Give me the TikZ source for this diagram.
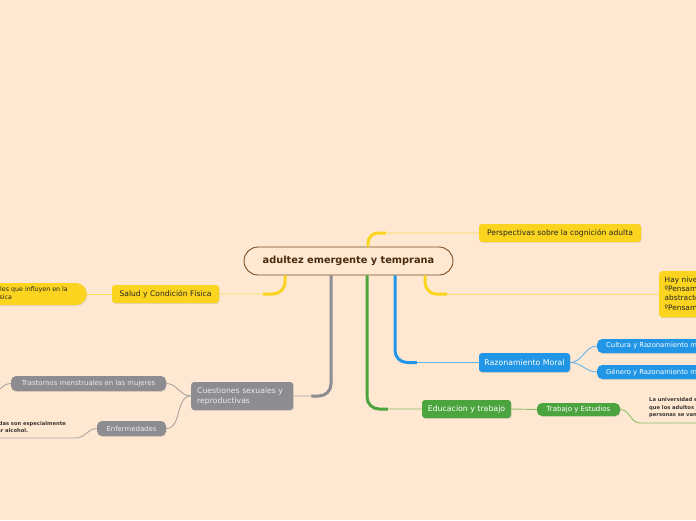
\documentclass[tikz,border=0pt]{standalone}
\usepackage{fontspec}
\setmainfont{DejaVu Sans}
\usetikzlibrary{shadows}
\definecolor{fondo}{HTML}{FEE8D2}
\definecolor{amarillo}{HTML}{FAD41E}
\definecolor{lamarillo}{HTML}{F8DE50}
\definecolor{gris}{HTML}{8C8C91}
\definecolor{lgris}{HTML}{ABA6A2}
\definecolor{azul}{HTML}{2196E6}
\definecolor{lazul}{HTML}{63B4EC}
\definecolor{verde}{HTML}{4CA43E}
\definecolor{lverde}{HTML}{8CC06A}
\definecolor{marron}{HTML}{7A4A1E}
\definecolor{tmarron}{HTML}{4A2A0C}
\definecolor{tnota}{HTML}{3C3530}
\tikzset{
  caja/.style={rounded corners=3pt, inner sep=0pt,
    drop shadow={opacity=0.22, shadow xshift=0.6pt, shadow yshift=-0.9pt}},
  central/.style={draw=marron, line width=0.9pt, fill=fondo, rounded corners=14pt,
    text=tmarron, font=\fontsize{9.8}{11}\selectfont\bfseries},
  yellownode/.style={caja, fill=amarillo, text=black!85, font=\fontsize{7.6}{9.3}\selectfont},
  graynode/.style={caja, fill=gris, text=white!93!black, font=\fontsize{7.7}{9.8}\selectfont},
  graysmall/.style={caja, fill=gris, text=white!93!black, rounded corners=5pt, font=\fontsize{6.9}{8}\selectfont},
  bluenode/.style={caja, fill=azul, text=white, font=\fontsize{7.8}{9}\selectfont},
  bluesmall/.style={caja, fill=azul, text=white, rounded corners=5pt, font=\fontsize{6.8}{8}\selectfont},
  greennode/.style={caja, fill=verde, text=white, font=\fontsize{7.8}{9}\selectfont},
  greensmall/.style={caja, fill=verde, text=white, rounded corners=5pt, font=\fontsize{7}{8}\selectfont},
  nota/.style={inner sep=0pt, text=tnota, font=\fontsize{5.2}{7.6}\selectfont\bfseries},
  yline/.style={draw=lamarillo, line width=0.9pt},
  ytrunk/.style={draw=amarillo, line width=3pt},
  gline/.style={draw=lgris, line width=0.9pt},
  gtrunk/.style={draw=gris, line width=3pt},
  bline/.style={draw=lazul, line width=0.9pt},
  btrunk/.style={draw=azul, line width=3pt},
  vline/.style={draw=lverde, line width=0.9pt},
  vtrunk/.style={draw=verde, line width=3pt}
}
\begin{document}
\begin{tikzpicture}[x=1pt, y=-1pt]
\path[use as bounding box, fill=fondo] (0,0) rectangle (696,520);

% centro
\node[central, minimum width=209pt, minimum height=28pt] (central) at (348.5,261) {adultez emergente y temprana};

% rama amarilla
\node[yellownode, minimum width=162pt, minimum height=18pt] (persp) at (560,233) {Perspectivas sobre la cognición adulta};
\node[yellownode, anchor=north west, inner sep=5.5pt, text width=160pt, align=left,
  font=\fontsize{7.4}{9.3}\selectfont] (niveles) at (659,271)
  {Hay niveles de pensamiento\\ºPensamiento reflexivo y\\abstracto\\ºPensamiento posformal};
\node[yellownode, minimum width=107pt, minimum height=18pt] (salud) at (165.5,294) {Salud y Condición Física};
\node[yellownode, rounded corners=11pt, anchor=east, inner xsep=19pt, minimum height=22pt, align=left,
  font=\fontsize{6.3}{8}\selectfont] (factores) at (87,294)
  {Factores conductuales que influyen en la\\salud y condición física};

% rama gris
\node[graynode, anchor=west, inner xsep=6pt, text width=90pt, minimum height=28pt, align=left] (cuest) at (191,396)
  {Cuestiones sexuales y\\reproductivas};
\node[graysmall, minimum width=155pt, minimum height=15pt] (trast) at (88.5,383.5) {Trastornos menstruales en las mujeres};
\node[graysmall, minimum width=69pt, minimum height=15pt] (enferm) at (131.5,428.5) {Enfermedades};
\node[nota, anchor=east, align=left] (enfnota) at (66,427.5)
  {Las infecciones transmitidas son especialmente\\graves al fumar o al tomar alcohol.};

% rama azul
\node[bluenode, minimum width=91pt, minimum height=19pt] (moral) at (524.5,362.5) {Razonamiento Moral};
\node[bluesmall, anchor=west, inner xsep=9pt, minimum height=14pt] (cultura) at (597,346) {Cultura y Razonamiento moral};
\node[bluesmall, anchor=west, inner xsep=9pt, minimum height=14pt] (genero) at (597,372) {Género y Razonamiento moral};

% rama verde
\node[greennode, minimum width=89pt, minimum height=18pt] (educ) at (466.5,409) {Educacion y trabajo};
\node[greensmall, minimum width=83pt, minimum height=13pt] (trabajo) at (578.5,409.5) {Trabajo y Estudios};
\node[nota, anchor=north west, align=left] (uninota) at (649,397.5)
  {La universidad es un lugar en el\\que los adultos jóvenes y otras\\personas se van formando};

% extremos libres
\coordinate (trastfin) at (-14,398);
\coordinate (enfbajo) at (76,438);
\coordinate (enffin) at (-5,438);
\coordinate (unibajo) at (640,423);
\coordinate (unifin) at (700,423);

% conectores del centro
\draw[yline, rounded corners=12pt] ([xshift=-63.5pt]central.south) |- (salud.east);
\draw[yline, rounded corners=10pt] ([xshift=19.5pt]central.north) |- (persp.west);
\draw[yline, rounded corners=12pt] ([xshift=76.5pt]central.south) |- (niveles.west);
\draw[gline, rounded corners=12pt] ([xshift=-17.5pt]central.south) |- (cuest.east);
\draw[bline, rounded corners=12pt] ([xshift=46.5pt]central.south) |- (moral.west);
\draw[vline, rounded corners=12pt] ([xshift=18.5pt]central.south) |- (educ.west);
\draw[ytrunk, rounded corners=12pt, shorten >=44pt] ([xshift=-63.5pt]central.south) |- (salud.east);
\draw[ytrunk, rounded corners=10pt, shorten >=93pt] ([xshift=19.5pt]central.north) |- (persp.west);
\draw[ytrunk, rounded corners=12pt, shorten >=212pt] ([xshift=76.5pt]central.south) |- (niveles.west);
\draw[gtrunk, rounded corners=12pt, shorten >=18pt] ([xshift=-17.5pt]central.south) |- (cuest.east);
\draw[btrunk, rounded corners=12pt, shorten >=62pt] ([xshift=46.5pt]central.south) |- (moral.west);
\draw[vtrunk, rounded corners=12pt, shorten >=34pt] ([xshift=18.5pt]central.south) |- (educ.west);

% conectores de las ramas
\draw[yline] (salud.west) -- (factores.east);
\draw[gline] (cuest.west) to[out=180,in=0] (trast.east);
\draw[gline] (cuest.west) to[out=180,in=0] (enferm.east);
\draw[gline] (trast.west) to[out=180,in=0] (trastfin);
\draw[gline] (enferm.west) to[out=180,in=0] (enfbajo) -- (enffin);
\draw[bline] (moral.east) to[out=0,in=180] (cultura.west);
\draw[bline] (moral.east) to[out=0,in=180] (genero.west);
\draw[vline] (educ.east) -- (trabajo.west);
\draw[vline] (trabajo.east) to[out=0,in=180] (unibajo) -- (unifin);
\end{tikzpicture}
\end{document}
